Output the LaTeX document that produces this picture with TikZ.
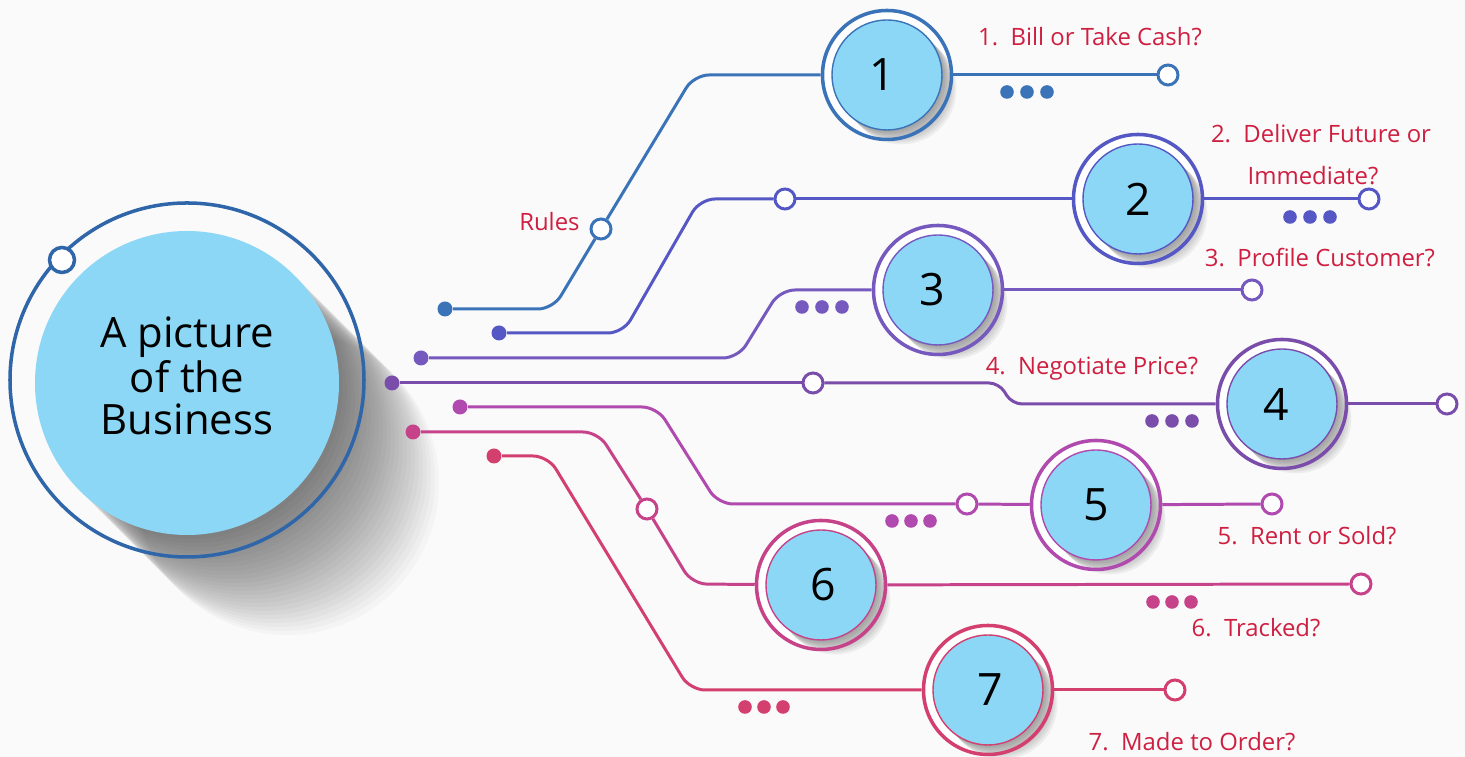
\documentclass[tikz,border=0pt]{standalone}
\usepackage{fontspec}
\setmainfont{Open Sans}

\definecolor{bgc}{HTML}{FAFAFA}
\definecolor{mainblue}{HTML}{2F66A9}
\definecolor{discblue}{HTML}{8DD7F6}
\definecolor{tagred}{HTML}{CF1F41}
\definecolor{b1}{HTML}{3A73B8}
\definecolor{b2}{HTML}{5558C4}
\definecolor{b3}{HTML}{7659BE}
\definecolor{b4}{HTML}{7A4DAB}
\definecolor{b5}{HTML}{B04AAE}
\definecolor{b6}{HTML}{C6438A}
\definecolor{b7}{HTML}{D33F6E}

\tikzset{
  branch/.style={line width=0.85pt, rounded corners=0.15cm},
  pin/.style={circle, fill, inner sep=0pt, minimum size=0.15cm},
  hub/.style={circle, draw, fill=white, line width=0.85pt, inner sep=0pt, minimum size=0.2cm},
  ring/.style={circle, line width=1pt, inner sep=0pt, minimum size=1.29cm},
  disc/.style={circle, fill=discblue, line width=0.4pt, inner sep=0pt, minimum size=1.10cm},
  num/.style={font=\fontsize{12.7}{14}\selectfont},
  tag/.style={text=tagred, anchor=base, font=\fontsize{6.8}{8}\selectfont},
}

\begin{document}
\begin{tikzpicture}
\path[fill=bgc, use as bounding box] (0,0) rectangle (14.65,7.57);

% big circle with its long shadow
\foreach \k in {1,...,25}
  \fill[black, opacity=0.023] (1.87+\k*0.04, 3.74-\k*0.04) circle (1.52);
\node[circle, draw=mainblue, line width=1pt, inner sep=0pt, minimum size=3.54cm] (main) at (1.87,3.77) {};
\node[circle, fill=discblue, inner sep=0pt, minimum size=3.04cm] (pic) at (1.87,3.74) {};
\node[font=\fontsize{11.9}{11.9}\selectfont, align=center] (title) at (1.87,3.81) {A picture\\of the\\Business};
\node[hub, draw=mainblue, line width=1pt, minimum size=0.25cm] (mh) at (0.62,4.97) {};

% start pins
\node[b1, pin] (d1) at (4.45,4.48) {};
\node[b2, pin] (d2) at (4.99,4.24) {};
\node[b3, pin] (d3) at (4.21,3.99) {};
\node[b4, pin] (d4) at (3.92,3.74) {};
\node[b5, pin] (d5) at (4.60,3.50) {};
\node[b6, pin] (d6) at (4.13,3.25) {};
\node[b7, pin] (d7) at (4.94,3.01) {};

% rings along the way
\node[b1, hub] (h1) at (6.01,5.28) {};
\node[b2, hub] (h2) at (7.85,5.58) {};
\node[b4, hub] (h4) at (8.13,3.74) {};
\node[b5, hub] (h5) at (9.67,2.53) {};
\node[b6, hub] (h6) at (6.47,2.48) {};

% end rings
\node[b1, hub] (e1) at (11.68,6.82) {};
\node[b2, hub] (e2) at (13.69,5.58) {};
\node[b3, hub] (e3) at (12.52,4.67) {};
\node[b4, hub] (e4) at (14.47,3.53) {};
\node[b5, hub] (e5) at (12.72,2.53) {};
\node[b6, hub] (e6) at (13.61,1.73) {};
\node[b7, hub] (e7) at (11.75,0.67) {};

% numbered circles
\foreach \n/\x/\y/\col/\dx in {1/8.87/6.82/b1/-0.05, 2/11.38/5.58/b2/0, 3/9.38/4.67/b3/-0.06,
    4/12.82/3.53/b4/-0.06, 5/10.96/2.52/b5/0, 6/8.21/1.72/b6/0.02, 7/9.88/0.67/b7/0.02} {
  \node[ring, fill=white] (c\n) at (\x,\y) {};
  \foreach \k in {1,...,8}
    \fill[black, opacity=0.05] (\x+\k*0.018, \y-\k*0.018) circle (0.55);
  \node[ring, draw=\col] at (\x,\y) {};
  \node[disc, draw=\col] at (\x,\y) {};
  \node[num] at (\x+\dx,\y) {\n};
}

% branches
\draw[branch, b1] (d1) -- (5.53,4.48) -- (h1);
\draw[branch, b1] (h1) -- (6.94,6.82) -- (c1);
\draw[branch, b1] (c1) -- (e1);

\draw[branch, b2] (d2) -- (6.23,4.24) -- (7.00,5.58) -- (h2);
\draw[branch, b2] (h2) -- (c2);
\draw[branch, b2] (c2) -- (e2);

\draw[branch, b3] (d3) -- (7.38,3.99) -- (7.80,4.67) -- (c3);
\draw[branch, b3] (c3) -- (e3);

\draw[branch, b4] (d4) -- (h4);
\draw[branch, b4, rounded corners=0.1cm] (h4) -- (9.99,3.74) -- (10.12,3.53) -- (c4);
\draw[branch, b4] (c4) -- (e4);

\draw[branch, b5] (d5) -- (6.57,3.50) -- (7.18,2.53) -- (h5);
\draw[branch, b5] (h5) -- (c5);
\draw[branch, b5] (c5) -- (e5);

\draw[branch, b6] (d6) -- (5.98,3.25) -- (h6);
\draw[branch, b6] (h6) -- (6.92,1.73) -- (c6);
\draw[branch, b6] (c6) -- (e6);

\draw[branch, b7] (d7) -- (5.48,3.01) -- (6.90,0.67) -- (c7);
\draw[branch, b7] (c7) -- (e7);

% three dots
\foreach \x in {10.07,10.27,10.47} \fill[b1] (\x,6.65) circle (0.068);
\foreach \x in {12.90,13.10,13.30} \fill[b2] (\x,5.40) circle (0.068);
\foreach \x in {8.02,8.22,8.42} \fill[b3] (\x,4.50) circle (0.068);
\foreach \x in {11.52,11.72,11.92} \fill[b4] (\x,3.36) circle (0.068);
\foreach \x in {8.92,9.11,9.30} \fill[b5] (\x,2.36) circle (0.068);
\foreach \x in {11.53,11.72,11.91} \fill[b6] (\x,1.55) circle (0.068);
\foreach \x in {7.45,7.64,7.83} \fill[b7] (\x,0.50) circle (0.068);

% questions
\node[tag, anchor=base east] (rules) at (5.92,5.26) {Rules};
\node[tag] (q1) at (10.90,7.11) {1.\ \ Bill or Take Cash?};
\node[tag] (q2) at (13.21,6.14) {2.\ \ Deliver Future or};
\node[tag] (q2b) at (13.13,5.72) {Immediate?};
\node[tag] (q3) at (13.20,4.90) {3.\ \ Profile Customer?};
\node[tag] (q4) at (10.92,3.82) {4.\ \ Negotiate Price?};
\node[tag] (q5) at (13.07,2.12) {5.\ \ Rent or Sold?};
\node[tag] (q6) at (12.56,1.20) {6.\ \ Tracked?};
\node[tag] (q7) at (11.92,0.06) {7.\ \ Made to Order?};
\end{tikzpicture}
\end{document}
